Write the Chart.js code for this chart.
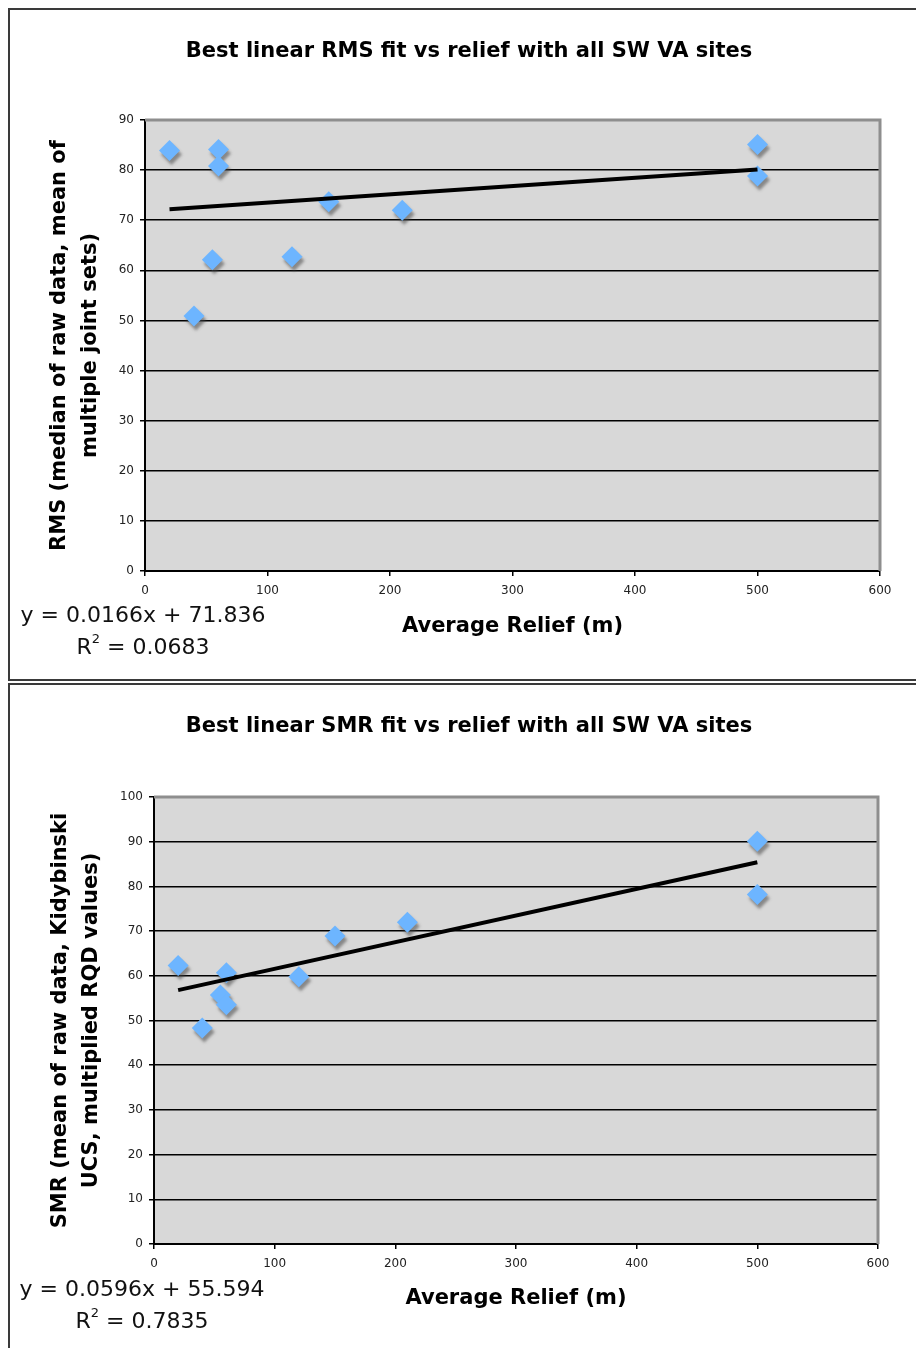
<!DOCTYPE html>
<html><head><meta charset="utf-8">
<script src="https://cdn.jsdelivr.net/npm/chart.js@4.4.1/dist/chart.umd.min.js"></script>
<style>
html,body{margin:0;padding:0;background:#fff;width:916px;height:1348px;overflow:hidden;}
.panel{position:absolute;left:8px;width:940px;border:2px solid #3a3a3a;box-sizing:border-box;background:#fff;overflow:hidden;}
#p1{top:8px;height:673px;}
#p2{top:683px;height:700px;}
.wrap{position:absolute;left:0;top:0;}
</style></head><body>
<div class="panel" id="p1"><div class="wrap"><canvas id="c1" width="918" height="669"></canvas></div></div>
<div class="panel" id="p2"><div class="wrap"><canvas id="c2" width="918" height="663"></canvas></div></div>
<script>
// ---- data ----
const rmsRelief = [20, 60, 60, 55, 40, 120, 150, 210, 500, 500];
const rmsValues = [83.9, 84.1, 80.8, 62.1, 50.9, 62.7, 73.7, 72.0, 85.1, 78.8];
const smrRelief = [20, 60, 55, 60, 40, 120, 150, 210, 500, 500];
const smrValues = [62.3, 60.7, 55.7, 53.5, 48.3, 59.8, 68.9, 72.0, 90.1, 78.2];
const rmsFit = [0.0166, 71.836];   // slope, intercept
const rmsR2 = '0.0683';
const smrFit = [0.0596, 55.594];
const smrR2 = '0.7835';
const xTicks = [0, 100, 200, 300, 400, 500, 600];
const rmsYTicks = [0, 10, 20, 30, 40, 50, 60, 70, 80, 90];
const smrYTicks = [0, 10, 20, 30, 40, 50, 60, 70, 80, 90, 100];
const rmsTitle = 'Best linear RMS fit vs relief with all SW VA sites';
const smrTitle = 'Best linear SMR fit vs relief with all SW VA sites';
const xTitle = 'Average Relief (m)';
const rmsYTitle = ['RMS (median of raw data, mean of', 'multiple joint sets)'];
const smrYTitle = ['SMR (mean of raw data, Kidybinski', 'UCS, multiplied RQD values)'];

// ---- plugins ----
const plotBg = {
  id: 'plotBg',
  beforeDraw(chart) {
    const {ctx, chartArea: a} = chart;
    ctx.save();
    ctx.fillStyle = '#D8D8D8';
    ctx.fillRect(a.left, a.top, a.right - a.left, a.bottom - a.top);
    ctx.restore();
  },
  beforeDatasetsDraw(chart) {
    const {ctx, chartArea: a} = chart;
    ctx.save();
    ctx.strokeStyle = '#8e8e8e';
    ctx.lineWidth = 3;
    ctx.beginPath();
    ctx.moveTo(a.left, a.top);
    ctx.lineTo(a.right, a.top);
    ctx.lineTo(a.right, a.bottom);
    ctx.stroke();
    ctx.restore();
  }
};
const shadow = {
  id: 'shadow',
  beforeDatasetDraw(chart, args) {
    if (chart.data.datasets[args.index].castShadow) {
      const ctx = chart.ctx;
      ctx.save();
      ctx.shadowColor = 'rgba(70,70,70,0.55)';
      ctx.shadowBlur = 3;
      ctx.shadowOffsetX = 2;
      ctx.shadowOffsetY = 4;
    }
  },
  afterDatasetDraw(chart, args) {
    if (chart.data.datasets[args.index].castShadow) chart.ctx.restore();
  }
};
const fitLabel = {
  id: 'fitLabel',
  afterDraw(chart, args, opts) {
    const {ctx, chartArea: a} = chart;
    const cx = a.left + opts.dx;
    ctx.save();
    ctx.fillStyle = '#111';
    ctx.textBaseline = 'middle';
    ctx.textAlign = 'left';
    const f = '22px "DejaVu Sans", sans-serif';
    const fs = '13px "DejaVu Sans", sans-serif';
    ctx.font = f;
    const eq = 'y = ' + opts.fit[0] + 'x + ' + opts.fit[1];
    const w1 = ctx.measureText(eq).width;
    ctx.fillText(eq, cx - w1 / 2, a.bottom + opts.dy1);
    const rest = ' = ' + opts.r2;
    const wR = ctx.measureText('R').width;
    const wRest = ctx.measureText(rest).width;
    ctx.font = fs;
    const w2 = ctx.measureText('2').width;
    const total = wR + w2 + wRest;
    let x = cx - total / 2;
    const y2 = a.bottom + opts.dy2;
    ctx.font = f;
    ctx.fillText('R', x, y2); x += wR;
    ctx.font = fs;
    ctx.fillText('2', x, y2 - 8); x += w2;
    ctx.font = f;
    ctx.fillText(rest, x, y2);
    ctx.restore();
  }
};

function makeChart(id, xs, ys, fit, r2, yTicks, title, yTitle, geo) {
  const minX = Math.min(...xs), maxX = Math.max(...xs);
  const pts = xs.map((x, i) => ({x: x, y: ys[i]}));
  const line = [minX, maxX].map(x => ({x: x, y: fit[0] * x + fit[1]}));
  const tickFont = {family: '"DejaVu Sans", sans-serif', size: 12};
  return new Chart(document.getElementById(id), {
    type: 'scatter',
    data: {
      datasets: [
        {data: line, showLine: true, borderColor: '#000', borderWidth: 4, pointRadius: 0, order: 0, tension: 0},
        {data: pts, castShadow: true, pointStyle: 'rectRot', pointRadius: 10.5, pointHoverRadius: 10.5,
         backgroundColor: '#6DB5FF', borderColor: '#6DB5FF', borderWidth: 0, order: 1}
      ]
    },
    options: {
      responsive: false,
      animation: false,
      events: [],
      layout: {padding: 0},
      plugins: {
        legend: {display: false},
        tooltip: {enabled: false},
        title: {display: true, text: title, color: '#000',
          font: {family: '"DejaVu Sans", sans-serif', size: 21, weight: 'bold', lineHeight: 1.2},
          padding: {top: 29.4, bottom: geo.titleBottom}},
        fitLabel: {fit: fit, r2: r2, dx: geo.eqDx, dy1: geo.eqDy1, dy2: geo.eqDy2}
      },
      scales: {
        x: {
          type: 'linear', min: 0, max: xTicks[xTicks.length - 1],
          afterBuildTicks: s => { s.ticks = xTicks.map(v => ({value: v})); },
          afterFit: s => { s.height = geo.xHeight; },
          ticks: {color: '#222', font: tickFont, padding: 8, maxRotation: 0},
          grid: {drawOnChartArea: false, drawTicks: true, tickLength: 5, color: '#000', lineWidth: 1.5},
          border: {display: true, color: '#000', width: 2},
          title: {display: true, text: xTitle, color: '#000',
            font: {family: '"DejaVu Sans", sans-serif', size: 21, weight: 'bold', lineHeight: 1.2},
            padding: {top: 0, bottom: geo.xTitleBottom}}
        },
        y: {
          type: 'linear', min: 0, max: yTicks[yTicks.length - 1],
          afterBuildTicks: s => { s.ticks = yTicks.map(v => ({value: v})); },
          afterFit: s => { s.width = geo.yWidth; },
          ticks: {color: '#222', font: tickFont, padding: 6},
          grid: {drawOnChartArea: true, drawTicks: true, tickLength: 5, color: '#000', lineWidth: 1.5},
          border: {display: true, color: '#000', width: 2},
          title: {display: true, text: yTitle, color: '#000',
            font: {family: '"DejaVu Sans", sans-serif', size: 21, weight: 'bold', lineHeight: '31px'},
            padding: {top: geo.yTitleTop, bottom: 0}}
        },
        // empty right-hand margin of the chart frame
        yRight: {
          type: 'linear', axis: 'y', position: 'right', display: true,
          ticks: {display: false}, grid: {display: false}, border: {display: false},
          afterFit: s => { s.width = geo.rightWidth; }
        }
      }
    },
    plugins: [plotBg, shadow, fitLabel]
  });
}

makeChart('c1', rmsRelief, rmsValues, rmsFit, rmsR2, rmsYTicks, rmsTitle, rmsYTitle,
  {rightWidth: 48, titleBottom: 55.4, xHeight: 108, xTitleBottom: 39.4, yWidth: 135, yTitleTop: 34,
   eqDx: -2, eqDy1: 45, eqDy2: 77});
makeChart('c2', smrRelief, smrValues, smrFit, smrR2, smrYTicks, smrTitle, smrYTitle,
  {rightWidth: 50, titleBottom: 57.4, xHeight: 104, xTitleBottom: 36.4, yWidth: 144, yTitleTop: 35,
   eqDx: -12, eqDy1: 46, eqDy2: 78});
</script>
</body></html>
